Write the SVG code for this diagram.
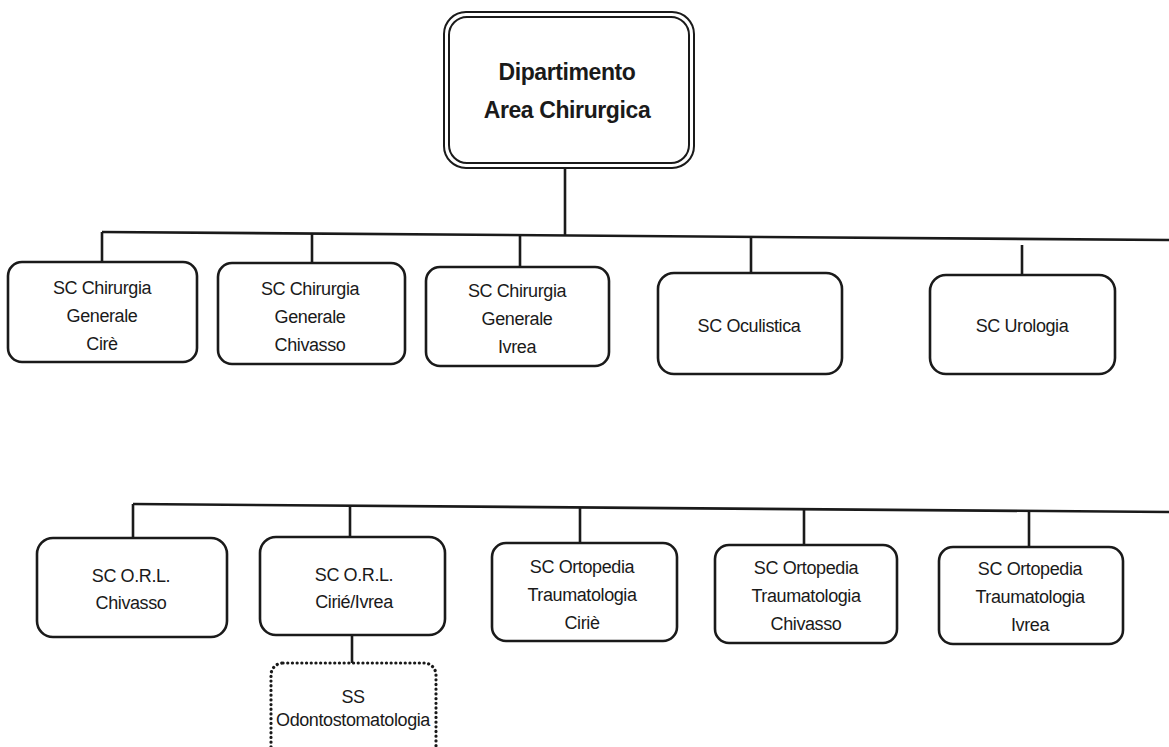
<svg xmlns="http://www.w3.org/2000/svg" width="1169" height="747" viewBox="0 0 1169 747">
<style>
.bg{fill:#ffffff}
.box{fill:#ffffff;stroke:#1a1a1a;stroke-width:2.6}
.dot{fill:#ffffff;stroke:#1a1a1a;stroke-width:3.2;stroke-dasharray:0.1 4.6;stroke-linecap:round}
.ln{fill:none;stroke:#1a1a1a;stroke-width:2.6}
.t{font-family:"Liberation Sans",Arial,sans-serif;font-size:18px;letter-spacing:-0.4px;fill:#1a1a1a;text-anchor:middle}
.tb{font-family:"Liberation Sans",Arial,sans-serif;font-size:23px;letter-spacing:-0.4px;font-weight:bold;fill:#1a1a1a;text-anchor:middle}
</style>
<rect class="bg" x="0" y="0" width="1169" height="747"/>
<g id="connectors">
  <line class="ln" x1="565" y1="168" x2="565" y2="235.5"/>
  <line class="ln" x1="102" y1="232" x2="1169" y2="240"/>
  <line class="ln" x1="102" y1="232" x2="102" y2="262"/>
  <line class="ln" x1="312" y1="233.6" x2="312" y2="263"/>
  <line class="ln" x1="520" y1="235.1" x2="520" y2="267"/>
  <line class="ln" x1="751" y1="236.9" x2="751" y2="273"/>
  <line class="ln" x1="1022" y1="245" x2="1022" y2="275"/>
  <line class="ln" x1="133" y1="504" x2="1169" y2="512"/>
  <line class="ln" x1="133" y1="504" x2="133" y2="538"/>
  <line class="ln" x1="350" y1="505.7" x2="350" y2="537"/>
  <line class="ln" x1="580" y1="507.5" x2="580" y2="543"/>
  <line class="ln" x1="804" y1="509.2" x2="804" y2="545"/>
  <line class="ln" x1="1029" y1="510.9" x2="1029" y2="547"/>
  <line class="ln" x1="352" y1="635" x2="352" y2="663"/>
</g>
<g id="dept">
  <rect x="444" y="12" width="250" height="156" rx="22" fill="#fff" stroke="#1a1a1a" stroke-width="2"/>
  <rect x="449" y="17" width="240" height="146" rx="18" fill="none" stroke="#1a1a1a" stroke-width="2"/>
  <text class="tb" x="567" y="80">Dipartimento</text>
  <text class="tb" x="567" y="118">Area Chirurgica</text>
</g>
<g id="chir-cire">
  <rect class="box" x="8" y="262" width="189" height="100" rx="14"/>
  <text class="t" x="102" y="294">SC Chirurgia</text>
  <text class="t" x="102" y="322">Generale</text>
  <text class="t" x="102" y="350">Cirè</text>
</g>
<g id="chir-chivasso">
  <rect class="box" x="218" y="263" width="187" height="101" rx="14"/>
  <text class="t" x="310" y="295">SC Chirurgia</text>
  <text class="t" x="310" y="323">Generale</text>
  <text class="t" x="310" y="351">Chivasso</text>
</g>
<g id="chir-ivrea">
  <rect class="box" x="426" y="267" width="183" height="99" rx="14"/>
  <text class="t" x="517" y="297">SC Chirurgia</text>
  <text class="t" x="517" y="325">Generale</text>
  <text class="t" x="517" y="353">Ivrea</text>
</g>
<g id="oculistica">
  <rect class="box" x="658" y="273" width="184" height="101" rx="16"/>
  <text class="t" x="749" y="332">SC Oculistica</text>
</g>
<g id="urologia">
  <rect class="box" x="930" y="275" width="185" height="99" rx="16"/>
  <text class="t" x="1022" y="332">SC Urologia</text>
</g>
<g id="orl-chivasso">
  <rect class="box" x="37" y="538" width="190" height="99" rx="16"/>
  <text class="t" x="131" y="582">SC O.R.L.</text>
  <text class="t" x="131" y="609">Chivasso</text>
</g>
<g id="orl-cirie-ivrea">
  <rect class="box" x="260" y="537" width="185" height="98" rx="16"/>
  <text class="t" x="354" y="581">SC O.R.L.</text>
  <text class="t" x="354" y="608">Cirié/Ivrea</text>
</g>
<g id="ss-odonto">
  <rect class="dot" x="271" y="663" width="165" height="100" rx="12"/>
  <text class="t" x="353" y="703">SS</text>
  <text class="t" x="353" y="726">Odontostomatologia</text>
</g>
<g id="orto-cirie">
  <rect class="box" x="492" y="543" width="185" height="98" rx="14"/>
  <text class="t" x="582" y="573">SC Ortopedia</text>
  <text class="t" x="582" y="601">Traumatologia</text>
  <text class="t" x="582" y="629">Ciriè</text>
</g>
<g id="orto-chivasso">
  <rect class="box" x="715" y="545" width="182" height="98" rx="14"/>
  <text class="t" x="806" y="574">SC Ortopedia</text>
  <text class="t" x="806" y="602">Traumatologia</text>
  <text class="t" x="806" y="630">Chivasso</text>
</g>
<g id="orto-ivrea">
  <rect class="box" x="939" y="547" width="184" height="97" rx="14"/>
  <text class="t" x="1030" y="575">SC Ortopedia</text>
  <text class="t" x="1030" y="603">Traumatologia</text>
  <text class="t" x="1030" y="631">Ivrea</text>
</g>
</svg>
